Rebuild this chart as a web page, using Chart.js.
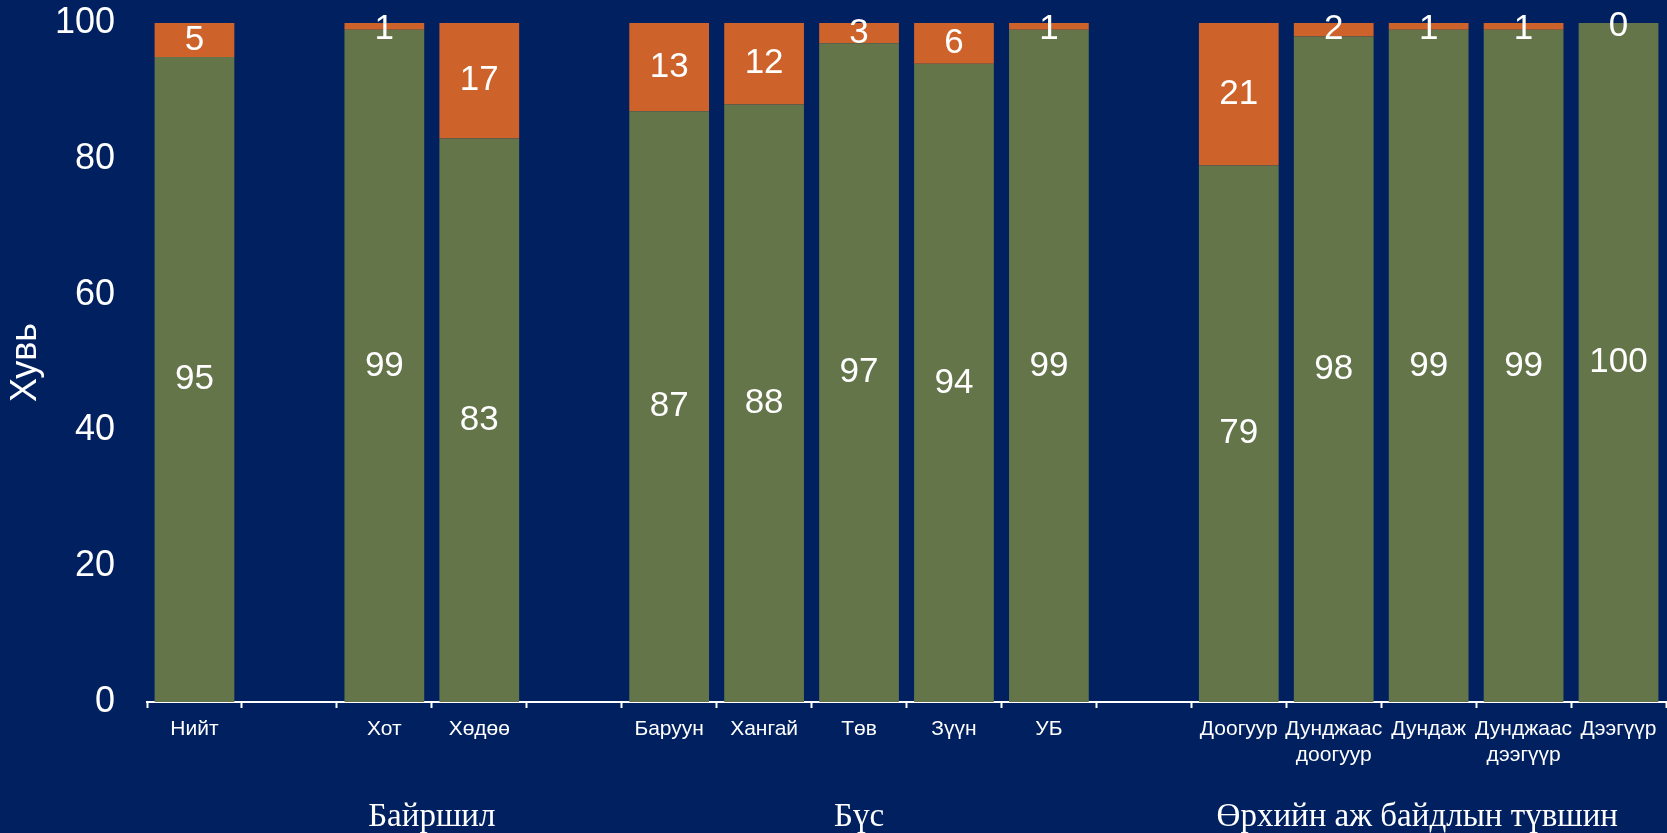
<!DOCTYPE html>
<html>
<head>
<meta charset="utf-8">
<script src="https://cdn.jsdelivr.net/npm/chart.js@4"></script>
<style>
  html, body { margin: 0; padding: 0; background: #002060; }
  #wrap { width: 1667px; height: 833px; position: relative; }
</style>
</head>
<body>
<div id="wrap"><canvas id="chart"></canvas></div>
<script>
const categories = [
  'Нийт', '', 'Хот', 'Хөдөө', '',
  'Баруун', 'Хангай', 'Төв', 'Зүүн', 'УБ', '',
  'Доогуур', ['Дунджаас', 'доогуур'], 'Дундаж', ['Дунджаас', 'дээгүүр'], 'Дээгүүр'
];
const greenValues  = [95, null, 99, 83, null, 87, 88, 97, 94, 99, null, 79, 98, 99, 99, 100];
const orangeValues = [5, null, 1, 17, null, 13, 12, 3, 6, 1, null, 21, 2, 1, 1, 0];
const yTicks = [0, 20, 40, 60, 80, 100];
const groupNames = ['Байршил', 'Бүс', 'Өрхийн аж байдлын түвшин'];
// where each group caption sits, in category index units
const groupCenter = [2.5, 7, 12.88];

const WHITE = '#ffffff';
const SANS = 'Arial, "Liberation Sans", sans-serif';
const SERIF = '"Times New Roman", "Liberation Serif", serif';

// numbers in the middle of each stacked segment
const segmentLabels = {
  id: 'segmentLabels',
  afterDatasetsDraw(chart) {
    const ctx = chart.ctx;
    ctx.save();
    ctx.fillStyle = WHITE;
    ctx.font = '35px ' + SANS;
    ctx.textAlign = 'center';
    ctx.textBaseline = 'middle';
    chart.data.datasets.forEach((ds, i) => {
      chart.getDatasetMeta(i).data.forEach((bar, j) => {
        const v = ds.data[j];
        if (v === null || v === undefined) return;
        let y = (bar.y + bar.base) / 2;
        if (v <= 1) y += 3;
        ctx.fillText(String(v), bar.x, y);
      });
    });
    ctx.restore();
  }
};

// group captions under the category labels
const groupLabels = {
  id: 'groupLabels',
  afterDraw(chart) {
    const ctx = chart.ctx;
    const x = chart.scales.x;
    const step = x.getPixelForValue(1) - x.getPixelForValue(0);
    ctx.save();
    ctx.fillStyle = WHITE;
    ctx.font = '33px ' + SERIF;
    ctx.textAlign = 'center';
    ctx.textBaseline = 'middle';
    groupNames.forEach((name, i) => {
      const cx = x.getPixelForValue(0) + groupCenter[i] * step;
      ctx.fillText(name, cx, 817);
    });
    ctx.restore();
  }
};

new Chart(document.getElementById('chart'), {
  type: 'bar',
  data: {
    labels: categories,
    datasets: [
      { label: 'green', data: greenValues, backgroundColor: '#64754a' },
      { label: 'orange', data: orangeValues, backgroundColor: '#cd622a' }
    ]
  },
  options: {
    responsive: true,
    maintainAspectRatio: false,
    animation: false,
    barPercentage: 0.84,
    categoryPercentage: 1.0,
    layout: { padding: { top: 23, right: 1, left: 0, bottom: 0 } },
    plugins: {
      legend: { display: false },
      tooltip: { enabled: false }
    },
    scales: {
      x: {
        stacked: true,
        grid: {
          display: true,
          drawOnChartArea: false,
          drawTicks: true,
          tickLength: 6,
          tickWidth: 2,
          tickColor: WHITE,
          offset: true
        },
        border: { display: true, color: WHITE, width: 2 },
        ticks: {
          color: WHITE,
          font: { family: SANS, size: 21 },
          padding: 9,
          maxRotation: 0,
          autoSkip: false
        },
        afterFit(scale) { scale.height = 131; }
      },
      y: {
        stacked: true,
        min: 0,
        max: 100,
        afterBuildTicks(scale) { scale.ticks = yTicks.map(v => ({ value: v })); },
        grid: { display: false, drawTicks: false },
        border: { display: false },
        ticks: {
          color: WHITE,
          font: { family: SANS, size: 36 },
          padding: 32
        },
        title: {
          display: true,
          text: 'Хувь',
          color: WHITE,
          font: { family: SANS, size: 36 },
          padding: 4
        },
        afterFit(scale) {
          scale.width = 147;
          scale.paddingTop = 0;
          scale.paddingBottom = 0;
        }
      }
    }
  },
  plugins: [segmentLabels, groupLabels]
});
</script>
</body>
</html>
